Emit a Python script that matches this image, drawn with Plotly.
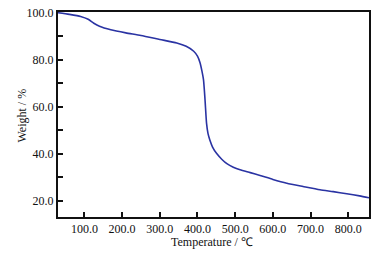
import plotly.graph_objects as go

temperature = [30, 60, 90, 110, 125, 140, 170, 210, 250, 300, 345, 370, 390, 400, 407,
               412, 416, 420, 424, 428, 433, 440, 451, 465, 478, 495, 513, 540, 566,
               600, 637, 680, 725, 760, 796, 830, 855]
weight = [100.0, 99.3, 98.4, 97.2, 95.5, 94.2, 92.7, 91.4, 90.3, 88.6, 87.1, 85.7, 83.6,
          81.5, 78.6, 75.0, 71.4, 63.0, 53.0, 48.5, 45.7, 42.8, 40.0, 37.5, 35.7, 34.2,
          33.1, 31.9, 30.7, 29.0, 27.4, 26.0, 24.6, 23.8, 22.9, 22.0, 21.2]

x_ticks = [100, 200, 300, 400, 500, 600, 700, 800]
y_ticks = [20, 40, 60, 80, 100]
x_title = "Temperature / ℃"
y_title = "Weight / %"

fig = go.Figure()
fig.add_trace(go.Scatter(x=temperature, y=weight, mode="lines",
                         line=dict(color="#2a33a3", width=1.6, shape="spline", smoothing=0.6),
                         showlegend=False, hoverinfo="skip"))

font_family = "Liberation Serif"
fig.update_layout(
    width=389, height=255,
    margin=dict(l=58, r=20, t=12, b=38),
    paper_bgcolor="white", plot_bgcolor="white",
    font=dict(family=font_family, size=12, color="#111"),
    annotations=[
        dict(text=x_title, xref="paper", yref="paper", x=0.5, y=0, xanchor="center",
             yanchor="middle", yshift=-25, xshift=-2, showarrow=False, font=dict(size=12)),
        dict(text=y_title, xref="paper", yref="paper", x=0, y=0.5, xanchor="center",
             yanchor="middle", xshift=-37, yshift=-1, textangle=-90, showarrow=False,
             font=dict(size=12)),
    ],
)
fig.update_xaxes(
    range=[30, 855], tickvals=x_ticks, tickformat=".1f", automargin=False,
    ticks="inside", ticklen=5, tickwidth=1.8, tickcolor="#111",
    showline=True, linecolor="#111", linewidth=2, mirror=True,
    showgrid=False, zeroline=False,
)
fig.update_yaxes(
    range=[13, 100.3], tickvals=y_ticks, tickformat=".1f", automargin=False,
    ticks="inside", ticklen=5, tickwidth=1.8, tickcolor="#111",
    minor=dict(tickvals=[30, 50, 70, 90], ticks="inside", ticklen=5, tickwidth=1.8, tickcolor="#111"),
    showline=True, linecolor="#111", linewidth=2, mirror=True,
    showgrid=False, zeroline=False,
)

fig.write_html("out.html", config={"displayModeBar": False},
               post_script="document.body.style.margin='0';document.body.style.padding='0';")
